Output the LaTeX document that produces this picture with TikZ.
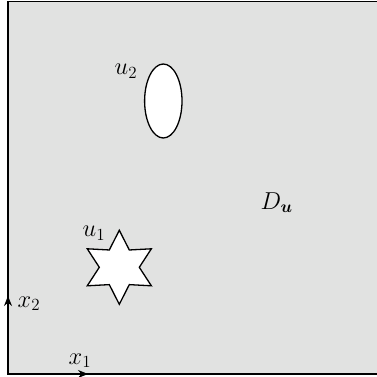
\documentclass[tikz,border=0pt]{standalone}
\usepackage{amsmath}
\usetikzlibrary{arrows.meta}
\definecolor{domgray}{RGB}{225,226,225}
\newcommand{\biglbl}[1]{\scalebox{1.18}{$#1$}}
\begin{document}
\begin{tikzpicture}[x=1pt,y=-1pt,
  lbl/.style={inner sep=0pt,anchor=base west,font=\fontsize{20.74}{24}\selectfont},
  obstacle/.style={draw=black,fill=white,line width=1.3pt,line join=miter},
  axis/.style={line width=1.5pt,-{Stealth[length=10pt,width=8pt]}}]
\useasboundingbox (0,0) rectangle (376,377);
\draw[fill=domgray,line width=1.6pt] (8,1.5) rectangle (378,374);
% ellipse u2
\draw[obstacle] (163.3,101) ellipse [x radius=18.7, y radius=37];
% star u1
\begin{scope}[shift={(119.3,267.3)}]
\draw[obstacle] (-90:37) -- (-60:20) -- (-30:37) -- (0:20) -- (30:37) -- (60:20)
  -- (90:37) -- (120:20) -- (150:37) -- (180:20) -- (210:37) -- (240:20) -- cycle;
\end{scope}
\coordinate (O) at (8,374);
\coordinate (X1) at (88,374);
\coordinate (X2) at (8,296);
\draw[axis] (O) -- (X1);
\draw[axis] (O) -- (X2);
\node[lbl] (u2) at (114.5,75) {\biglbl{u_2}};
\node[lbl] (u1) at (82.5,236.7) {\biglbl{u_1}};
\node[lbl] (D) at (260.5,209) {\biglbl{D_{\boldsymbol{u}}}};
\node[lbl] (x2) at (17.5,307) {\biglbl{x_2}};
\node[lbl] (x1) at (68.5,364) {\biglbl{x_1}};
\end{tikzpicture}
\end{document}
